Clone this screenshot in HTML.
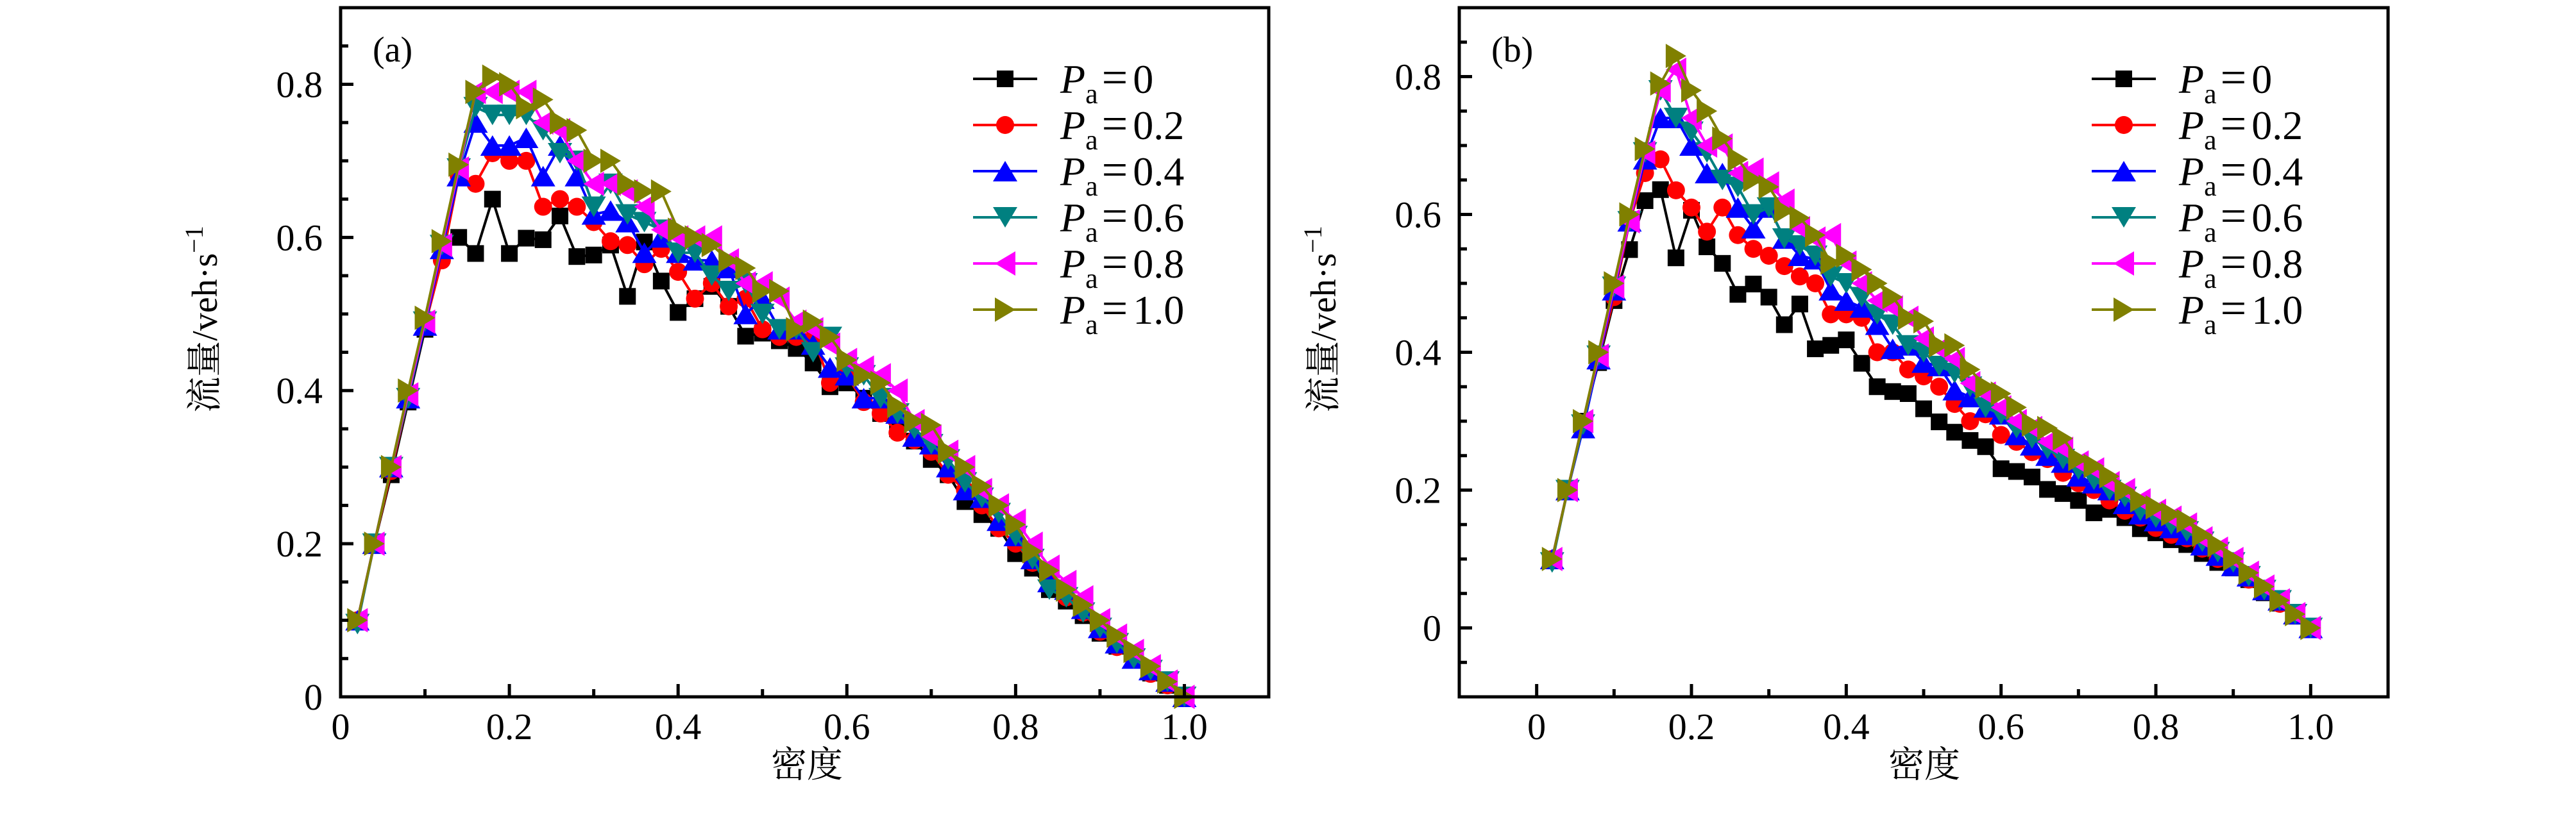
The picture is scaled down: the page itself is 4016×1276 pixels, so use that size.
<!DOCTYPE html>
<html><head><meta charset="utf-8"><style>
html,body{margin:0;padding:0;background:#fff;}
svg{display:block;}
text{font-family:"Liberation Serif","Noto Serif CJK SC",serif;fill:#000;}
</style></head><body>
<svg id="fig" width="4016" height="1276" viewBox="0 0 4016 1276" xmlns="http://www.w3.org/2000/svg"></svg>
<script>
const densities = [0.02,0.04,0.06,0.08,0.10,0.12,0.14,0.16,0.18,0.20,0.22,0.24,0.26,0.28,0.30,0.32,0.34,0.36,0.38,0.40,0.42,0.44,0.46,0.48,0.50,0.52,0.54,0.56,0.58,0.60,0.62,0.64,0.66,0.68,0.70,0.72,0.74,0.76,0.78,0.80,0.82,0.84,0.86,0.88,0.90,0.92,0.94,0.96,0.98,1.00];
const seriesLabels = ["0","0.2","0.4","0.6","0.8","1.0"];
const seriesColors = ["#000000","#ff0000","#0000ff","#008080","#ff00ff","#808000"];
const seriesMarkers = ["square","circle","up","down","left","right"];
// Panel (a)
const a0 = [0.1,0.2,0.29,0.385,0.48,0.59,0.60,0.579,0.65,0.579,0.599,0.597,0.628,0.575,0.577,0.59,0.523,0.594,0.543,0.502,0.52,0.536,0.51,0.471,0.475,0.465,0.455,0.436,0.405,0.41,0.39,0.37,0.35,0.334,0.31,0.29,0.255,0.238,0.22,0.187,0.168,0.14,0.125,0.106,0.083,0.066,0.05,0.031,0.015,0];
const a2 = [0.1,0.2,0.295,0.39,0.485,0.57,0.68,0.67,0.71,0.70,0.70,0.64,0.65,0.64,0.62,0.595,0.59,0.565,0.585,0.555,0.52,0.54,0.51,0.52,0.48,0.47,0.47,0.47,0.41,0.42,0.385,0.37,0.345,0.335,0.32,0.29,0.27,0.25,0.22,0.20,0.175,0.15,0.13,0.11,0.085,0.065,0.05,0.03,0.015,0];
const a4 = [0.1,0.2,0.3,0.39,0.485,0.585,0.68,0.75,0.72,0.72,0.73,0.68,0.72,0.68,0.63,0.635,0.62,0.58,0.60,0.58,0.57,0.57,0.56,0.50,0.52,0.48,0.48,0.46,0.43,0.42,0.39,0.39,0.37,0.34,0.33,0.30,0.27,0.26,0.23,0.21,0.18,0.15,0.14,0.115,0.09,0.07,0.05,0.035,0.02,0];
const a6 = [0.095,0.2,0.3,0.39,0.49,0.59,0.69,0.77,0.76,0.76,0.76,0.74,0.71,0.70,0.64,0.67,0.63,0.62,0.61,0.58,0.58,0.55,0.53,0.54,0.50,0.48,0.48,0.45,0.47,0.43,0.42,0.39,0.37,0.35,0.33,0.31,0.28,0.26,0.24,0.21,0.18,0.14,0.13,0.11,0.09,0.07,0.05,0.035,0.02,0];
const a8 = [0.1,0.2,0.3,0.395,0.49,0.59,0.69,0.79,0.79,0.79,0.79,0.75,0.74,0.70,0.67,0.67,0.66,0.64,0.61,0.60,0.60,0.60,0.57,0.54,0.54,0.52,0.49,0.48,0.46,0.44,0.43,0.42,0.40,0.36,0.34,0.32,0.30,0.27,0.25,0.23,0.20,0.17,0.15,0.13,0.10,0.08,0.06,0.04,0.02,0];
const a10 = [0.1,0.2,0.3,0.4,0.495,0.595,0.695,0.79,0.81,0.80,0.77,0.78,0.75,0.74,0.70,0.70,0.67,0.66,0.66,0.61,0.60,0.59,0.57,0.56,0.53,0.53,0.48,0.49,0.47,0.44,0.42,0.41,0.38,0.36,0.355,0.32,0.30,0.275,0.25,0.225,0.19,0.165,0.14,0.12,0.10,0.08,0.06,0.04,0.02,0];
// Panel (b)
const b0 = [0.1,0.2,0.3,0.385,0.475,0.549,0.62,0.636,0.537,0.606,0.553,0.529,0.484,0.499,0.48,0.44,0.47,0.405,0.41,0.418,0.384,0.35,0.343,0.34,0.318,0.299,0.284,0.272,0.263,0.231,0.227,0.219,0.201,0.195,0.185,0.167,0.172,0.16,0.144,0.138,0.128,0.121,0.108,0.095,0.087,0.07,0.051,0.036,0.017,0];
const b2 = [0.1,0.2,0.295,0.39,0.48,0.59,0.66,0.68,0.635,0.61,0.575,0.61,0.57,0.55,0.54,0.525,0.51,0.50,0.455,0.455,0.45,0.40,0.40,0.375,0.365,0.35,0.325,0.30,0.31,0.28,0.27,0.255,0.245,0.225,0.21,0.20,0.185,0.17,0.16,0.145,0.135,0.13,0.115,0.10,0.09,0.07,0.055,0.035,0.02,0];
const b4 = [0.1,0.2,0.29,0.39,0.49,0.59,0.68,0.74,0.74,0.70,0.66,0.66,0.61,0.58,0.61,0.565,0.54,0.535,0.49,0.475,0.465,0.44,0.405,0.41,0.385,0.38,0.345,0.335,0.32,0.31,0.28,0.265,0.25,0.24,0.22,0.21,0.20,0.18,0.165,0.155,0.145,0.135,0.12,0.105,0.09,0.075,0.055,0.04,0.02,0];
const b6 = [0.095,0.2,0.295,0.395,0.495,0.59,0.69,0.78,0.74,0.72,0.69,0.65,0.64,0.60,0.61,0.565,0.555,0.54,0.51,0.50,0.48,0.455,0.44,0.41,0.40,0.38,0.37,0.35,0.32,0.31,0.29,0.275,0.26,0.245,0.23,0.215,0.20,0.19,0.17,0.16,0.15,0.14,0.125,0.11,0.095,0.075,0.055,0.04,0.02,0];
const b8 = [0.1,0.2,0.3,0.395,0.495,0.59,0.69,0.78,0.81,0.74,0.70,0.70,0.66,0.665,0.645,0.62,0.58,0.565,0.57,0.53,0.50,0.475,0.465,0.45,0.42,0.405,0.39,0.355,0.34,0.32,0.30,0.29,0.27,0.26,0.24,0.23,0.21,0.20,0.185,0.17,0.16,0.15,0.13,0.115,0.10,0.08,0.06,0.04,0.02,0];
const b10 = [0.1,0.2,0.3,0.4,0.5,0.6,0.695,0.79,0.83,0.78,0.75,0.71,0.68,0.65,0.64,0.605,0.595,0.57,0.53,0.54,0.52,0.50,0.48,0.45,0.445,0.41,0.41,0.375,0.35,0.34,0.32,0.295,0.29,0.275,0.245,0.235,0.22,0.20,0.185,0.175,0.165,0.155,0.135,0.12,0.10,0.08,0.06,0.04,0.02,0];
const xTicksA = [0,0.2,0.4,0.6,0.8,1.0];
const xTickLabels = ["0","0.2","0.4","0.6","0.8","1.0"];
const yTicks = [0,0.2,0.4,0.6,0.8];
const yTickLabels = ["0","0.2","0.4","0.6","0.8"];

const NS = "http://www.w3.org/2000/svg";
const svg = document.getElementById('fig');
function mk(tag, attrs, parent){const e=document.createElementNS(NS,tag);for(const k in attrs)e.setAttribute(k,attrs[k]);(parent||svg).appendChild(e);return e;}

function marker(g, kind, cx, cy, color){
  let e;
  if(kind==='square'){e=mk('rect',{x:cx-13,y:cy-13,width:26,height:26,fill:color},g);}
  else if(kind==='circle'){e=mk('circle',{cx:cx,cy:cy,r:14,fill:color},g);}
  else{
    const s=19,h=16;let p;
    if(kind==='up')p=[[cx,cy-h],[cx+s,cy+h],[cx-s,cy+h]];
    if(kind==='down')p=[[cx,cy+h],[cx+s,cy-h],[cx-s,cy-h]];
    if(kind==='left')p=[[cx-h,cy],[cx+h,cy-s],[cx+h,cy+s]];
    if(kind==='right')p=[[cx+h,cy],[cx-h,cy-s],[cx-h,cy+s]];
    e=mk('polygon',{points:p.map(q=>q.join(',')).join(' '),fill:color},g);
  }
  
  
}

function panel(id, L, R, T, B, xmin, xmax, ymin, ymax, series, tag, ylabX, xlabX){
  const g=mk('g',{});
  
  
  const sx=v=>L+(v-xmin)/(xmax-xmin)*(R-L);
  const sy=v=>B-(v-ymin)/(ymax-ymin)*(B-T);
  series.forEach((vals,si)=>{
    const sg=mk('g',{},g);
    
    
    const pl=mk('polyline',{points:densities.map((d,i)=>sx(d)+','+sy(vals[i])).join(' '),fill:'none',stroke:seriesColors[si],'stroke-width':4,'stroke-linejoin':'round'},sg);
    
    
    densities.forEach((d,i)=>marker(sg,seriesMarkers[si],sx(d),sy(vals[i]),seriesColors[si]));
  });
  const fr=mk('rect',{x:L,y:T,width:R-L,height:B-T,fill:'none',stroke:'#000','stroke-width':5},g);
  
  
  for(let k=Math.round(xmin*10);k<=Math.round(xmax*10);k++){
    const v=k/10;const x=sx(v);
    const major=(k%2===0)&&v>=0&&v<=1.0001;
    if(x<=L+3||x>=R-3)continue;
    mk('line',{x1:x,x2:x,y1:B,y2:B-(major?20:12),stroke:'#000','stroke-width':5},g);
  }
  xTicksA.forEach((v,i)=>{
    const t=mk('text',{x:sx(v),y:B+66,'font-size':58,'text-anchor':'middle'},g);
    t.textContent=xTickLabels[i];
    
    
  });
  for(let k=Math.round(ymin*20);k<=Math.round(ymax*20);k++){
    const v=k/20;const y=sy(v);
    if(y>=B-3||y<=T+3)continue;
    const major=(k%4===0);
    mk('line',{x1:L,x2:L+(major?20:12),y1:y,y2:y,stroke:'#000','stroke-width':5},g);
  }
  yTicks.forEach((v,i)=>{
    const t=mk('text',{x:L-28,y:sy(v)+20,'font-size':58,'text-anchor':'end'},g);
    t.textContent=yTickLabels[i];
    
    
  });
  const pt=mk('text',{x:L+50,y:96,'font-size':56},g);
  pt.textContent=tag;
  
  
  const xt=mk('text',{x:xlabX,y:1212,'font-size':56,'text-anchor':'middle'},g);
  xt.textContent='密度';
  
  
  const yt=mk('text',{x:0,y:0,'font-size':56,'text-anchor':'middle',transform:'translate('+(ylabX+20)+',498) rotate(-90)'},g);
  yt.innerHTML='流量/veh·s<tspan dy="-22" font-size="40">−1</tspan>';
  
  
  const lg=mk('g',{},g);
  
  
  const lx=L+986;
  seriesLabels.forEach((lab,si)=>{
    const y=123+si*72;
    const eg=mk('g',{},lg);
    
    
    mk('line',{x1:lx,x2:lx+100,y1:y,y2:y,stroke:seriesColors[si],'stroke-width':4},eg);
    marker(eg,seriesMarkers[si],lx+50,y,seriesColors[si]);
    const t=mk('text',{x:lx+136,y:y+22,'font-size':64},eg);
    t.innerHTML='<tspan font-style="italic">P</tspan><tspan dy="16" font-size="44">a</tspan><tspan dy="-16" dx="6" font-size="72">=</tspan><tspan dx="8">'+lab+'</tspan>';
  });
}
panel('a',531,1978,12,1087,0,1.1,0,0.9,[a0,a2,a4,a6,a8,a10],'(a)',318,1258);
panel('b',2275,3723,12,1087,-0.1,1.1,-0.1,0.9,[b0,b2,b4,b6,b8,b10],'(b)',2062,3000);
</script>
</body></html>
